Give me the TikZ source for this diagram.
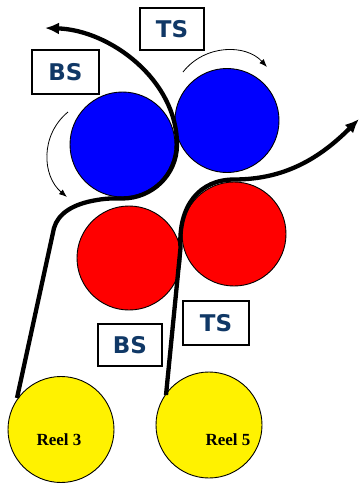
\documentclass[tikz,border=0pt]{standalone}
\usepackage{fontspec}
\setmainfont{Liberation Serif}
\newfontfamily\lblfont{DejaVu Sans}
\usetikzlibrary{arrows.meta}
\definecolor{lblblue}{RGB}{16,56,102}
\tikzset{
  roll/.style={circle, draw=black, line width=0.9pt, inner sep=0pt, minimum size=#1},
  labelbox/.style={draw=black, line width=1.3pt, fill=white, minimum width=65pt, minimum height=43pt,
     inner sep=0pt, font=\lblfont\bfseries\fontsize{23}{23}\selectfont, text=lblblue},
  reeltext/.style={font=\bfseries\fontsize{17}{17}\selectfont},
  web/.style={line width=4.3pt, line join=round},
  webtip/.style={-{Latex[length=14pt,width=12pt]}},
  turn/.style={line width=0.8pt, -{Latex[length=8pt,width=6pt]}}
}
\begin{document}
\begin{tikzpicture}[x=1pt,y=-1pt]
\useasboundingbox (0,0) rectangle (360,485);
% rolls
\node[roll=105pt, fill=blue] (bl) at (122.5,144.5) {};
\node[roll=104pt, fill=blue] (br) at (227,120.5) {};
\node[roll=104pt, fill=red] (rl) at (129,258) {};
\node[roll=104pt, fill=red] (rr) at (234,234) {};
\node[roll=106pt, fill=yellow] (y3) at (61,429.5) {};
\node[roll=106pt, fill=yellow] (y5) at (209,425) {};
\node[reeltext] (t3) at (59,440) {Reel 3};
\node[reeltext] (t5) at (228,440) {Reel 5};
% label boxes
\node[labelbox, minimum width=67pt, minimum height=44pt] (bs1) at (65.5,72) {BS};
\node[labelbox, minimum width=64pt, minimum height=42pt] (ts1) at (172,29) {TS};
\node[labelbox, minimum width=64pt, minimum height=42pt] (bs2) at (130,345) {BS};
\node[labelbox, minimum width=66pt, minimum height=44pt] (ts2) at (216,323) {TS};
% webs
\coordinate (w1s) at (17,398);
\coordinate (w1b) at (54,228);
\coordinate (w1e) at (45,28);
\draw[web, webtip] (w1s) -- (w1b)
  .. controls (58,214) and (72,204) .. (97,200)
  .. controls (108,198) and (115,198.5) .. (122,198.5)
  .. controls (152,198.5) and (177,174.9) .. (177,144.5)
  .. controls (177,80) and (110,30) .. (w1e);
\coordinate (w2s) at (166,395);
\coordinate (w2b) at (180.5,248);
\coordinate (w2e) at (359,119);
\draw[web, webtip] (w2s) -- (w2b)
  .. controls (178,205) and (200,179.5) .. (234,179.5)
  .. controls (285,179.5) and (320,158) .. (w2e);
% rotation arrows
\coordinate (a1s) at (68,112);
\coordinate (a1e) at (67,197);
\draw[turn] (a1s) .. controls (40,135) and (42,176) .. (a1e);
\coordinate (a2s) at (183,72);
\coordinate (a2e) at (267,67);
\draw[turn] (a2s) .. controls (205,44) and (246,44) .. (a2e);
\end{tikzpicture}
\end{document}
